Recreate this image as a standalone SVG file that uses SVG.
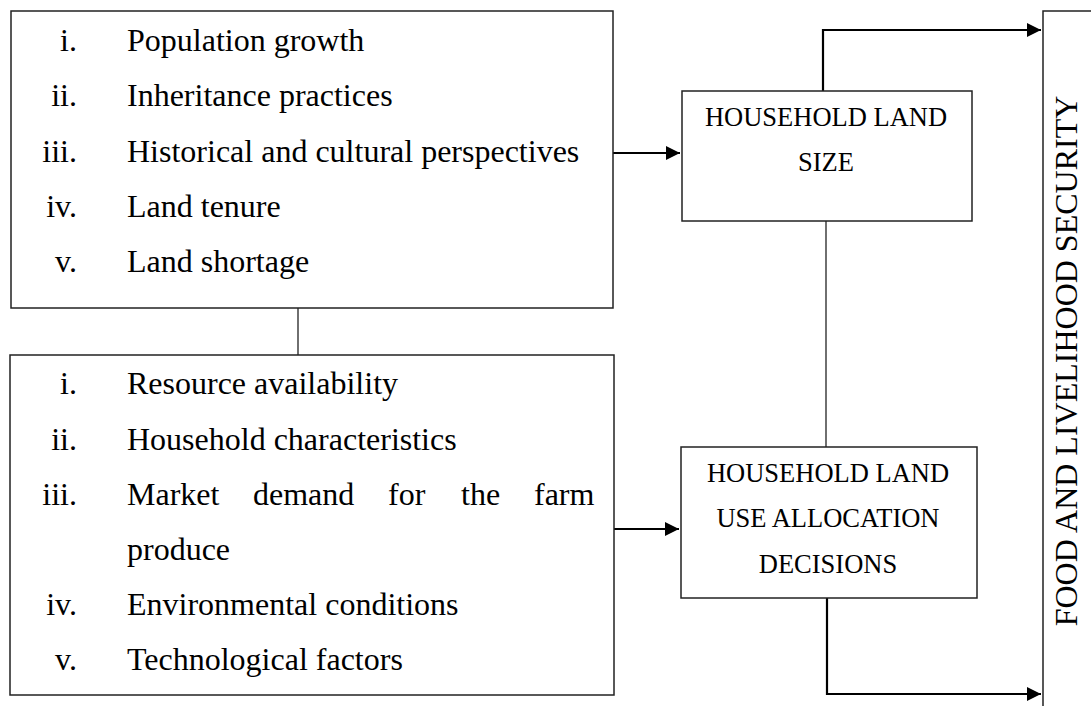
<svg xmlns="http://www.w3.org/2000/svg" width="1091" height="706" viewBox="0 0 1091 706">
<style>
.box{fill:#fff;stroke:#222;stroke-width:1.5}
.t{font-family:"Liberation Serif","Times New Roman",serif;font-size:32px;fill:#000}
.n{text-anchor:end}
.c{font-family:"Liberation Serif","Times New Roman",serif;font-size:26.5px;fill:#000;text-anchor:middle}
.v{font-family:"Liberation Serif","Times New Roman",serif;font-size:32px;fill:#000;text-anchor:middle}
.ln{fill:none;stroke:#222;stroke-width:1.3}
.ar{fill:none;stroke:#000;stroke-width:2.2}
</style>
<defs>
<marker id="ah" markerWidth="14" markerHeight="14" refX="14" refY="7" orient="auto" markerUnits="userSpaceOnUse">
<path d="M0,0 L14,7 L0,14 Z" fill="#000"/>
</marker>
</defs>
<g id="connectors">
<line class="ln" x1="298" y1="308" x2="298" y2="355"/>
<line class="ln" x1="826" y1="221" x2="826" y2="447"/>
<line class="ar" x1="613" y1="153" x2="680" y2="153" marker-end="url(#ah)"/>
<line class="ar" x1="614" y1="529" x2="679" y2="529" marker-end="url(#ah)"/>
<polyline class="ar" points="823,91 823,30 1041,30" marker-end="url(#ah)"/>
<polyline class="ar" points="827,598 827,694 1041,694" marker-end="url(#ah)"/>
</g>
<g id="factors1">
<rect class="box" x="11" y="11" width="602" height="297"/>
<text class="t n" x="77" y="51">i.</text><text class="t" x="127" y="51">Population growth</text>
<text class="t n" x="77" y="106">ii.</text><text class="t" x="127" y="106">Inheritance practices</text>
<text class="t n" x="77" y="162">iii.</text><text class="t" x="127" y="162">Historical and cultural perspectives</text>
<text class="t n" x="77" y="217">iv.</text><text class="t" x="127" y="217">Land tenure</text>
<text class="t n" x="77" y="272">v.</text><text class="t" x="127" y="272">Land shortage</text>
</g>
<g id="factors2">
<rect class="box" x="10" y="355" width="604" height="340"/>
<text class="t n" x="77" y="394">i.</text><text class="t" x="127" y="394">Resource availability</text>
<text class="t n" x="77" y="450">ii.</text><text class="t" x="127" y="450">Household characteristics</text>
<text class="t n" x="77" y="505">iii.</text><text class="t" x="127" y="505">Market</text><text class="t" x="253" y="505">demand</text><text class="t" x="388" y="505">for</text><text class="t" x="461" y="505">the</text><text class="t" x="534" y="505">farm</text>
<text class="t" x="127" y="560">produce</text>
<text class="t n" x="77" y="615">iv.</text><text class="t" x="127" y="615">Environmental conditions</text>
<text class="t n" x="77" y="670">v.</text><text class="t" x="127" y="670">Technological factors</text>
</g>
<g id="landsize">
<rect class="box" x="682" y="91" width="290" height="130"/>
<text class="c" x="826" y="126">HOUSEHOLD LAND</text>
<text class="c" x="826" y="171">SIZE</text>
</g>
<g id="allocation">
<rect class="box" x="681" y="447" width="296" height="151"/>
<text class="c" x="828" y="482">HOUSEHOLD LAND</text>
<text class="c" x="828" y="527">USE ALLOCATION</text>
<text class="c" x="828" y="573">DECISIONS</text>
</g>
<g id="security">
<rect class="box" x="1043" y="11" width="60" height="710"/>
<text class="v" transform="translate(1077,361) rotate(-90)" x="0" y="0">FOOD AND LIVELIHOOD SECURITY</text>
</g>
</svg>
